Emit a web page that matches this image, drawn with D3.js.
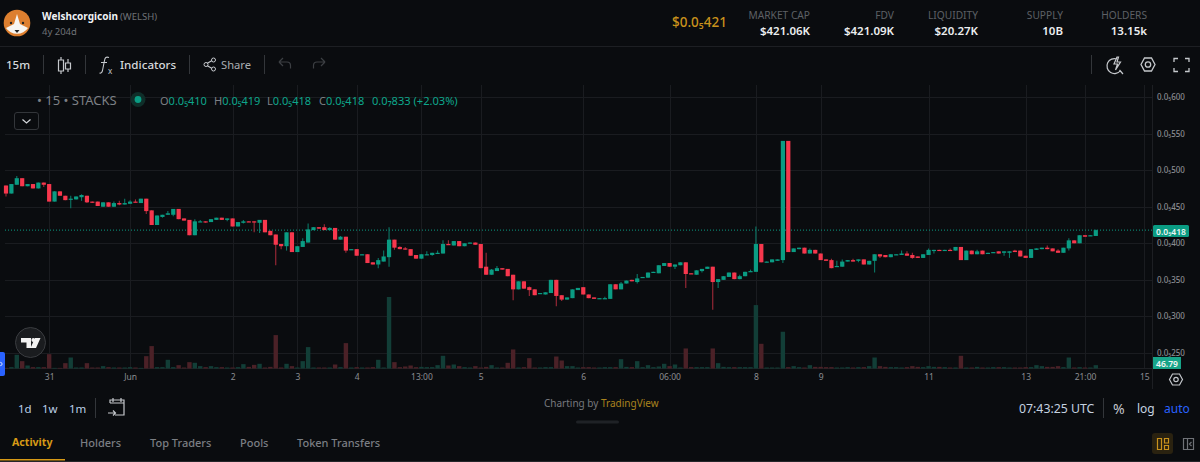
<!DOCTYPE html>
<html>
<head>
<meta charset="utf-8">
<title>Welshcorgicoin</title>
<script src="https://cdn.jsdelivr.net/npm/d3@7"></script>
<style>
  html, body { margin: 0; padding: 0; background: #0a0c0f; overflow: hidden; }
  svg { display: block; font-family: "Noto Sans", sans-serif; }
</style>
</head>
<body>
<svg id="chart" width="1200" height="462"></svg>
<script>
const open = [
  479,468,480,489,478,481,475,483,481,457,
  471,465,460,460,463,465,457,457,450,456,
  450,455,453,454,457,455,461,445,425,436,
  439,439,447,434,432,411,429,430,429,432,
  435,432,434,423,428,430,430,428,432,417,
  412,399,396,415,388,395,401,418,422,422,
  418,421,405,409,391,392,384,385,374,371,
  375,381,405,395,393,392,384,379,384,384,
  386,386,399,397,403,396,400,401,399,368,
  357,362,366,365,357,337,348,340,337,331,
  330,332,350,329,323,325,336,340,330,326,
  324,324,324,344,337,345,350,347,353,353,
  360,359,369,373,368,370,374,359,357,362,
  365,368,347,350,354,360,351,355,361,361,
  399,374,374,376,377,540,388,392,394,386,
  391,386,378,377,368,368,375,377,376,378,
  371,376,385,384,381,384,384,386,384,382,
  380,384,390,391,390,391,390,395,377,390,
  385,390,386,387,389,387,387,390,390,383,
  380,391,392,394,393,390,387,393,404,400,
  411,410,410];
const high = [
  479,481,492,489,481,481,483,483,481,471,
  471,465,465,464,467,465,457,457,456,456,
  457,458,461,459,460,461,461,445,438,439,
  444,447,447,434,432,433,432,430,433,435,
  435,434,434,429,432,430,430,432,432,417,
  412,399,415,415,396,407,427,422,422,426,
  422,421,410,409,392,392,385,385,374,380,
  390,422,405,396,395,392,384,385,389,387,
  390,404,404,403,403,400,401,401,399,387,
  365,369,366,365,357,348,348,341,337,332,
  333,350,350,329,326,337,339,340,330,326,
  325,327,344,344,347,349,350,358,354,360,
  361,370,373,373,371,374,374,359,363,365,
  368,368,351,355,360,360,357,361,364,423,
  399,375,378,378,540,540,393,394,394,393,
  391,386,378,379,376,378,377,379,378,378,
  376,385,385,384,385,385,390,389,387,382,
  385,393,391,391,391,393,395,395,390,390,
  391,390,387,388,389,389,389,391,390,383,
  392,393,394,397,393,392,394,407,404,411,
  411,411,419];
const low = [
  464,468,480,478,478,475,475,477,457,457,
  465,459,448,460,458,455,455,451,450,450,
  450,452,453,454,456,455,440,425,425,435,
  439,437,433,431,411,411,429,428,429,432,
  432,430,423,423,427,429,415,414,415,411,
  370,392,390,388,388,395,401,418,420,418,
  418,405,405,387,391,383,384,373,371,366,
  375,368,391,392,391,383,379,379,384,383,
  386,386,398,397,396,396,400,398,366,357,
  357,362,364,355,322,337,338,328,329,331,
  330,332,314,321,323,325,336,330,325,324,
  324,324,324,337,337,345,348,345,353,353,
  360,359,369,368,365,370,339,358,357,360,
  365,309,339,350,354,351,351,355,361,361,
  374,374,374,376,373,388,388,392,386,386,
  386,377,376,366,368,368,375,375,374,371,
  371,360,380,381,381,384,384,383,379,380,
  380,384,386,390,390,390,390,377,377,385,
  385,385,386,387,386,383,380,388,382,380,
  380,391,392,392,389,387,387,390,400,400,
  409,410,410];
const close = [
  468,481,489,478,481,475,483,480,457,471,
  465,459,461,464,466,456,456,451,456,450,
  455,453,455,457,456,461,444,425,438,439,
  441,447,433,431,411,430,430,429,433,435,
  432,434,423,429,430,429,429,432,415,411,
  398,396,415,388,396,403,419,422,420,418,
  421,405,409,390,392,383,385,373,371,377,
  382,405,394,392,392,383,379,385,385,387,
  387,399,398,403,396,400,401,398,366,357,
  364,366,364,355,337,348,338,336,329,332,
  333,350,328,323,326,337,339,330,325,324,
  325,325,344,337,345,349,348,352,354,360,
  361,370,373,368,371,374,358,358,363,365,
  368,347,351,355,360,351,355,361,362,399,
  374,375,378,378,540,388,393,394,386,391,
  386,377,376,366,369,375,377,375,378,371,
  376,385,382,381,385,385,386,383,380,380,
  385,391,391,390,391,390,395,377,390,385,
  389,385,387,388,386,389,389,388,382,380,
  392,393,394,392,389,387,394,404,400,411,
  409,411,418];
const volume = [
  9,19,192,103,42,19,19,19,201,9,
  9,75,154,14,14,75,14,14,33,19,
  14,14,14,19,14,9,173,314,19,19,
  122,19,47,14,89,80,33,19,33,19,
  19,14,14,19,61,23,51,66,14,23,
  468,14,66,33,14,103,300,14,14,14,
  14,56,19,356,14,19,14,14,19,122,
  14,1002,89,19,28,42,19,23,19,19,
  47,178,42,56,33,19,14,33,14,23,
  47,14,14,80,267,14,19,145,14,14,
  19,19,168,112,33,33,14,19,19,14,
  14,19,19,19,131,23,19,103,19,47,
  19,28,66,33,56,14,281,19,19,19,
  19,281,75,23,19,19,19,19,19,889,
  346,14,14,14,515,19,33,19,14,47,
  23,23,19,19,14,14,19,14,19,19,
  33,154,33,23,19,19,14,19,33,23,
  19,33,23,23,19,14,14,178,14,14,
  23,14,14,19,19,19,14,14,14,19,
  19,47,33,23,23,33,19,154,14,19,
  14,14,46.79];

const priceTicks = [600, 550, 500, 450, 400, 350, 300, 250];
const timeTickIndex = [8, 23, 42, 54, 65, 77, 88, 107, 123, 139, 151, 171, 189, 200, 211];
const timeTickLabels = ['31', 'Jun', '2', '3', '4', '13:00', '5', '6', '06:00', '8', '9', '11', '13', '21:00', '15'];
const lastPrice = 418;

const statLabels = ['MARKET CAP', 'FDV', 'LIQUIDITY', 'SUPPLY', 'HOLDERS'];
const statValues = ['$421.06K', '$421.09K', '$20.27K', '10B', '13.15k'];
const tabLabels = ['Activity', 'Holders', 'Top Traders', 'Pools', 'Token Transfers'];
const legendLetters = ['O', 'H', 'L', 'C'];
const legendValues = ['0.0₅410', '0.0₅419', '0.0₅418', '0.0₅418'];

const GREEN = '#0a9c83';
const RED = '#f7374d';
const GREEN_WICK = '#0b7766';
const RED_WICK = '#a02a38';
const GRID = '#1a1c20';
const GOLD = '#c9921c';

const svg = d3.select('#chart');
const x = d3.scaleLinear([0, 202], [6, 1095.8]);
const y = d3.scaleLinear([250, 600], [353, 97]);
const volY = d3.scaleLinear([0, 1002], [368.5, 297]);

function label(text, px, py, size, fill, opts = {}) {
  return svg.append('text')
    .attr('x', px).attr('y', py)
    .attr('font-size', size)
    .attr('font-weight', opts.weight || 400)
    .attr('text-anchor', opts.anchor || 'start')
    .attr('dominant-baseline', 'central')
    .attr('fill', fill)
    .text(text);
}

function icon(d, stroke, width = 1.2) {
  return svg.append('path').attr('d', d).attr('fill', 'none')
    .attr('stroke', stroke).attr('stroke-width', width);
}

// Background and dividers
svg.append('rect').attr('width', 1200).attr('height', 462).attr('fill', '#0a0c0f');
svg.append('line').attr('x1', 0).attr('x2', 1200).attr('y1', 46.5).attr('y2', 46.5).attr('stroke', '#1d1f23');
svg.append('line').attr('x1', 0).attr('x2', 1200).attr('y1', 461.5).attr('y2', 461.5).attr('stroke', '#24262a');

// Grid
svg.append('g')
  .selectAll('line')
  .data(timeTickIndex)
  .join('line')
    .attr('x1', (d) => Math.round(x(d)) + 0.5)
    .attr('x2', (d) => Math.round(x(d)) + 0.5)
    .attr('y1', 85).attr('y2', 368)
    .attr('stroke', GRID);

svg.append('g')
  .selectAll('line')
  .data(priceTicks)
  .join('line')
    .attr('x1', 5).attr('x2', 1152)
    .attr('y1', (d) => Math.round(y(d)) + 0.5)
    .attr('y2', (d) => Math.round(y(d)) + 0.5)
    .attr('stroke', GRID);

svg.append('line').attr('x1', 5).attr('x2', 1152).attr('y1', 368.5).attr('y2', 368.5).attr('stroke', '#1d1f23');
svg.append('line').attr('x1', 1152.5).attr('x2', 1152.5).attr('y1', 85).attr('y2', 389).attr('stroke', '#1d1f23');

// Volume bars
svg.append('g')
  .selectAll('rect')
  .data(volume)
  .join('rect')
    .attr('x', (d, i) => x(i) - 2.2)
    .attr('width', 4.4)
    .attr('y', (d) => volY(d))
    .attr('height', (d) => volY(0) - volY(d))
    .attr('fill', (d, i) => close[i] >= open[i] ? '#123e37' : '#4b2127');

// Last price line
svg.append('line')
  .attr('x1', 5).attr('x2', 1152)
  .attr('y1', y(lastPrice)).attr('y2', y(lastPrice))
  .attr('stroke', GREEN).attr('stroke-dasharray', '1 2');

// Candles
const candles = svg.append('g').selectAll('g').data(open).join('g');
candles.append('line')
  .attr('x1', (d, i) => x(i)).attr('x2', (d, i) => x(i))
  .attr('y1', (d, i) => y(high[i])).attr('y2', (d, i) => y(low[i]))
  .attr('stroke', (d, i) => close[i] >= open[i] ? GREEN_WICK : RED_WICK)
  .attr('stroke-width', 1.1);
candles.append('rect')
  .attr('x', (d, i) => x(i) - 2.1)
  .attr('width', 4.2)
  .attr('y', (d, i) => y(Math.max(open[i], close[i])))
  .attr('height', (d, i) => Math.max(1.2, Math.abs(y(open[i]) - y(close[i]))))
  .attr('fill', (d, i) => close[i] >= open[i] ? GREEN : RED);

// Axes
const priceAxis = svg.append('g')
  .attr('transform', 'translate(1152,0)')
  .call(d3.axisRight(y).tickValues(priceTicks).tickSize(0).tickPadding(5)
    .tickFormat((d) => `0.0₅${d}`));
priceAxis.select('.domain').remove();
priceAxis.selectAll('text').attr('fill', '#8a8d92').attr('font-size', 8).attr('font-weight', 500).attr('font-family', '"Noto Sans", sans-serif');

const timeAxis = svg.append('g')
  .attr('transform', 'translate(0,368)')
  .call(d3.axisBottom(x).tickValues(timeTickIndex).tickSize(0).tickPadding(6)
    .tickFormat((d, i) => timeTickLabels[i]));
timeAxis.select('.domain').remove();
timeAxis.selectAll('text').attr('fill', '#8a8d92').attr('font-size', 8.5).attr('font-family', '"Noto Sans", sans-serif');

// Price tags
svg.append('rect').attr('x', 1153).attr('y', 225).attr('width', 36).attr('height', 12).attr('rx', 1.5).attr('fill', GREEN);
label('0.0₅418', 1171, 231, 8.5, '#eef5f3', {anchor: 'middle', weight: 600});
svg.append('rect').attr('x', 1153).attr('y', 357).attr('width', 28).attr('height', 12).attr('fill', '#17a589');
label('46.79', 1167, 363, 8.5, '#f2f7f6', {anchor: 'middle', weight: 600});

// Header
svg.append('circle').attr('cx', 17).attr('cy', 23).attr('r', 13.3).attr('fill', '#dd7f2f');
svg.append('path').attr('d', 'M17 14 L20 24 L28 28 A13.3 13.3 0 0 1 6 28 L14 24 Z').attr('fill', '#f7f5f1');
svg.append('circle').attr('cx', 11).attr('cy', 23).attr('r', 1.2).attr('fill', '#222');
svg.append('circle').attr('cx', 23).attr('cy', 23).attr('r', 1.2).attr('fill', '#222');
svg.append('path').attr('d', 'M14.5 30 h5 l-2.5 3 Z').attr('fill', '#222');

label('Welshcorgicoin', 42, 16, 10, '#f0f2f4', {weight: 700});
label('(WELSH)', 120, 16, 9.5, '#6f7277');
label('4y 204d', 42, 31, 9.5, '#6f7277');
label('$0.0₅421', 672, 21.5, 13.5, GOLD, {weight: 500});

const statRight = [810, 894, 978, 1063, 1147];
statLabels.forEach((s, i) => {
  label(s, statRight[i], 14.5, 10.2, '#5d6065', {anchor: 'end'});
  label(statValues[i], statRight[i], 30.5, 11.5, '#eceef0', {anchor: 'end', weight: 600});
});

// Toolbar
label('15m', 6, 64, 11.5, '#d5d8dc', {weight: 500});
label('Indicators', 120, 64, 11.6, '#d5d8dc', {weight: 500});
label('Share', 221, 64, 11.2, '#a9acb0');
[43, 85, 189, 264, 1091].forEach((sx) => {
  svg.append('line').attr('x1', sx + 0.5).attr('x2', sx + 0.5).attr('y1', 55).attr('y2', 74).attr('stroke', '#33363a');
});
icon('M61 57v3M61 71v3M58.5 60h5v11h-5zM68 59v4M68 69v3M65.5 63h5v6h-5z', '#c5c8cc');
icon('M109 57.5c-3-1-4 0-4.5 3l-2 10c-.5 2-1.5 3-3 2.5M101 62.5h6', '#c5c8cc', 1.1);
label('x', 108, 70, 8, '#c5c8cc');
icon('M206 64l7-4M206 65l7 4', '#c5c8cc');
[[206, 64.5], [213.5, 60], [213.5, 69]].forEach(([cx, cy]) => {
  svg.append('circle').attr('cx', cx).attr('cy', cy).attr('r', 2).attr('fill', '#0a0c0f').attr('stroke', '#c5c8cc');
});
icon('M279 62h8a3.5 3.5 0 0 1 3.5 3.5v3M279 62l4-4M279 62l4 4', '#3c3f43');
icon('M325 62h-8a3.5 3.5 0 0 0-3.5 3.5v3M325 62l-4-4M325 62l-4 4', '#3c3f43');
icon('M1117 59a7.5 7.5 0 1 0 3.5 11.5M1119.5 70l3.5 4M1117 57l-3 7h3.5l-2 6 5-8h-3.5l1.5-5z', '#c5c8cc');
icon('M1141 64.5l3.5-6.5h7l3.5 6.5-3.5 6.5h-7z', '#c5c8cc', 1.3);
svg.append('circle').attr('cx', 1148).attr('cy', 64.5).attr('r', 2.7).attr('fill', 'none').attr('stroke', '#c5c8cc').attr('stroke-width', 1.3);
icon('M1174 62v-3.5h4M1185 58.5h4v3.5M1174 68v3.5h4M1189 68v3.5h-4', '#c5c8cc', 1.3);

// Legend row
label('• 15 • STACKS', 37, 100, 13, '#7d8085');
svg.append('circle').attr('cx', 138).attr('cy', 99.5).attr('r', 7.5).attr('fill', '#0f2e29');
svg.append('circle').attr('cx', 138).attr('cy', 99.5).attr('r', 3.4).attr('fill', GREEN);

const legendX = [160, 214, 267, 319];
legendLetters.forEach((l, i) => {
  const t = label('', legendX[i], 100, 11, '#7d8085');
  t.append('tspan').text(l);
  t.append('tspan').attr('fill', '#0da68b').text(legendValues[i]);
});
label('0.0₇833 (+2.03%)', 372, 100, 11.1, '#0da68b');

svg.append('rect').attr('x', 14.5).attr('y', 112.5).attr('width', 24).attr('height', 17).attr('rx', 2.5)
  .attr('fill', '#0a0c0f').attr('stroke', '#33363a');
icon('M22.5 119.5l4 3.5 4-3.5', '#d5d8dc');

// TradingView badge
svg.append('circle').attr('cx', 30.5).attr('cy', 342.5).attr('r', 15).attr('fill', '#1a1c1f').attr('stroke', '#3a3c40');
svg.append('path').attr('d', 'M21 338h10v10h-4.5v-5.5H21zM40.5 338l-4.5 10h-5.5l4.5-10z').attr('fill', '#f2f2f2');
svg.append('circle').attr('cx', 33.3).attr('cy', 340).attr('r', 1.9).attr('fill', '#f2f2f2');

// Blue handle at the left edge
svg.append('rect').attr('x', -3).attr('y', 352).attr('width', 8).attr('height', 24).attr('rx', 2).attr('fill', '#2962ff');
svg.append('circle').attr('cx', 0.5).attr('cy', 364).attr('r', 1.6).attr('fill', 'none').attr('stroke', '#cfdcff');

// Settings under the price scale
icon('M1169.5 379.5l3-5.5h7l3 5.5-3 5.5h-7z', '#c5c8cc', 1.2);
svg.append('circle').attr('cx', 1176).attr('cy', 379.5).attr('r', 2.2).attr('fill', 'none').attr('stroke', '#c5c8cc').attr('stroke-width', 1.2);

// Bottom bar
label('1d', 18, 408, 11.5, '#bcd0e8');
label('1w', 42, 408, 11.5, '#bcd0e8');
label('1m', 69, 408, 11.5, '#bcd0e8');
[95, 1103].forEach((sx) => {
  svg.append('line').attr('x1', sx + 0.5).attr('x2', sx + 0.5).attr('y1', 398).attr('y2', 418).attr('stroke', '#33363a');
});
icon('M110 403v-3h14v15h-9M110 403h14M113 398v4M121 398v4M108 413h7M113 410.5l2.5 2.5-2.5 2.5', '#c5c8cc');

const credit = label('Charting by ', 544, 403, 10, '#77797e');
credit.append('tspan').attr('fill', '#a9831e').text('TradingView');
svg.append('rect').attr('x', 576).attr('y', 420.5).attr('width', 43).attr('height', 3).attr('rx', 1.5).attr('fill', '#1f2226');

label('07:43:25 UTC', 1019, 408, 12.3, '#c5d2e0');
label('%', 1113, 408, 14, '#c5c8cc');
label('log', 1137, 408, 12, '#c5d2e0');
label('auto', 1164, 408, 12, '#2962ff');

// Tabs
const tabX = [12, 80, 150, 240, 297];
tabLabels.forEach((s, i) => {
  label(s, tabX[i], 442, i === 0 ? 10.6 : 11, i === 0 ? '#d79a16' : '#7b7e83', {weight: i === 0 ? 700 : 500});
});
svg.append('rect').attr('x', 0).attr('y', 459).attr('width', 65).attr('height', 1.5).attr('fill', '#d79a16');

svg.append('rect').attr('x', 1152).attr('y', 433).attr('width', 21).attr('height', 21).attr('rx', 3).attr('fill', '#2a2210');
icon('M1157.5 438.5h4v11h-4zM1164.5 438.5h4v4.5h-4zM1164.5 445.5h4v4h-4z', '#c9921c', 1.2);
icon('M1183.5 438.5h10v11h-10zM1187.5 438.5v11M1191.5 442l-2 2 2 2', '#6f7277', 1.2);
</script>
</body>
</html>
